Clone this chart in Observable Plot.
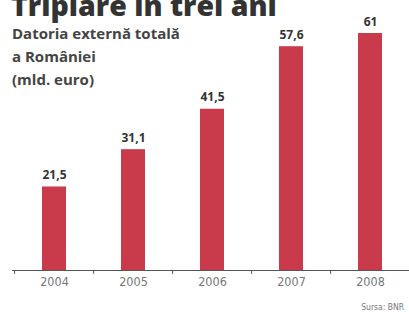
<!DOCTYPE html>
<html><head><meta charset="utf-8">
<script src="https://cdn.jsdelivr.net/npm/d3@7"></script>
<script src="https://cdn.jsdelivr.net/npm/@observablehq/plot@0.6"></script>
<style>
body{margin:0;background:#fff;}
#wrap{position:relative;width:409px;height:314px;overflow:hidden;background:#fff;}
#wrap svg{position:absolute;left:0;top:0;}
.t{position:absolute;font-family:"Open Sans",sans-serif;color:#333;white-space:nowrap;}
#title{left:11px;top:-10px;font-size:28.5px;font-weight:800;line-height:30px;color:#333;}
#sub{left:12px;top:22px;font-size:15px;font-weight:700;line-height:23px;color:#444;}
#src{right:5px;top:302px;font-family:"DejaVu Sans Condensed","DejaVu Sans",sans-serif;font-stretch:condensed;font-size:8.5px;color:#777;}
</style></head>
<body><div id="wrap">
<div class="t" id="title">Triplare în trei ani</div>
<div class="t" id="sub">Datoria externă totală<br>a României<br>(mld. euro)</div>
<div class="t" id="src">Sursa: BNR</div>
</div>
<script>
const years = ["2004","2005","2006","2007","2008"];
const values = [21.5, 31.1, 41.5, 57.6, 61];
const labels = ["21,5","31,1","41,5","57,6","61"];
const data = years.map((y,i)=>({year:y, value:values[i], label:labels[i]}));

const chart = Plot.plot({
  width: 409, height: 314,
  marginLeft: 12, marginRight: -2, marginTop: 33, marginBottom: 44,
  style: {background: "transparent", overflow: "visible"},
  x: {domain: years, paddingInner: 0.7, paddingOuter: 0.35, label: null},
  y: {domain: [0, 61], axis: null},
  marks: [
    Plot.barY(data, {x: "year", y: "value", fill: "#c93b4b"}),
    Plot.text(data, {x: "year", y: "value", text: "label", dy: -8, lineAnchor: "bottom",
      fontFamily: "Open Sans", fontWeight: 700, fontSize: 12, fill: "#333"}),
    Plot.ruleY([0], {stroke: "#555", strokeWidth: 1.2}),
    Plot.ruleX(years, {x: d => d, dx: -39.9, y1: 0, y2: -1, stroke: "#555", strokeWidth: 1}),
    Plot.axisX({tickSize: 0, tickPadding: 7, fontSize: 12.5, fill: "#777",
      fontFamily: "DejaVu Sans Condensed, DejaVu Sans", label: null})
  ]
});
chart.querySelectorAll("[aria-label='x-axis tick label'] text, [aria-label='x-axis tick label']").forEach(e=>e.setAttribute("font-stretch","condensed"));
document.getElementById("wrap").prepend(chart);
</script>
</body></html>
